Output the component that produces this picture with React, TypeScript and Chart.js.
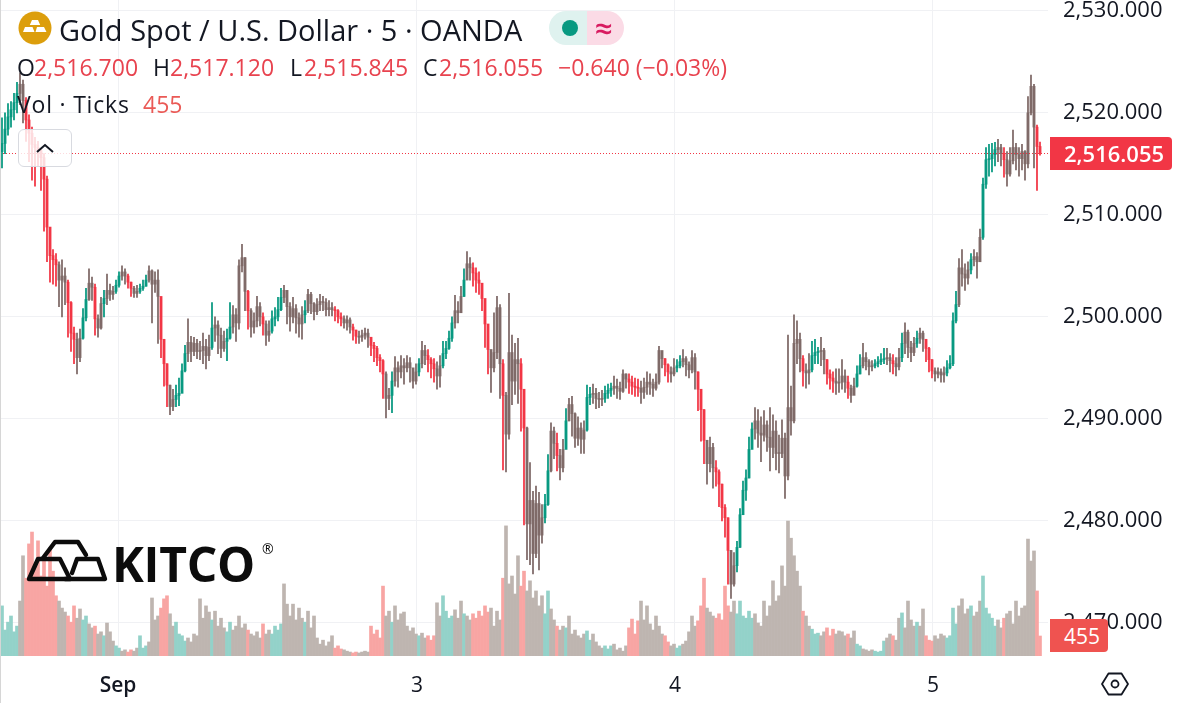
import React, { useEffect, useRef } from "react";
import Chart from "chart.js/auto";

const closes = [
2517.0,2518.4,2519.6,2520.3,2521.0,2521.9,2522.8,2521.2,2519.3,2518.0,
2516.9,2516.6,2516.3,2515.6,2513.5,2508.8,2506.0,2505.6,2505.1,2503.6,
2504.0,2503.4,2501.4,2498.4,2497.8,2496.0,2497.9,2499.9,2501.7,2503.3,
2502.9,2499.8,2498.9,2501.3,2501.8,2502.6,2502.2,2502.5,2503.1,2504.0,
2504.4,2504,2503.4,2502.8,2502.3,2502.5,2502.8,2503,2503.6,2504.5,
2503.2,2503.6,2502.0,2497.8,2495.4,2493.3,2491.2,2491.9,2492.3,2492.5,
2494.7,2496.4,2497.5,2496.6,2497.4,2496.6,2496.7,2497.1,2496.2,2497.0,
2498.9,2499.2,2498.2,2496.9,2497.6,2497.9,2499.0,2500.2,2499.4,2505.0,
2505.8,2502.5,2500.6,2499.0,2499.6,2501.0,2500.0,2499.3,2498.2,2498.6,
2499.8,2500.0,2500.7,2501.9,2502.6,2501.0,2500.0,2500.8,2499.9,2499.3,
2500.2,2500.6,2502.2,2501.3,2500.5,2501.2,2501.5,2501.4,2500.7,2500.9,
2500.7,2500.6,2500.0,2499.8,2499.4,2499.7,2499.0,2498.7,2498.1,2498.0,
2498.2,2498.4,2498.0,2497.2,2496.9,2496.0,2495.7,2494.4,2492.0,2492.3,
2493.7,2495,2494.6,2495.2,2495.0,2495.5,2495,2493.7,2494.6,2495.4,
2496.7,2496.2,2495.8,2495.4,2494.9,2494.2,2495.2,2496.4,2496.9,2497.9,
2499.4,2500.6,2500.4,2502.0,2503.6,2505.2,2504.8,2504.3,2503.6,2503.3,
2501.8,2499.3,2496.8,2495.0,2496.5,2500.9,2495.4,2492.3,2488.5,2496.5,
2493.7,2495.8,2495.4,2492.9,2489.1,2479.7,2482.0,2476.8,2481.7,2478.6,
2480.3,2481.6,2484.9,2488.8,2487.6,2486.4,2485.2,2487.0,2489.8,2491.4,
2490.5,2488.1,2489.1,2488.0,2488.9,2492.1,2492.4,2492.5,2492.0,2491.9,
2492.0,2492.5,2492.8,2493.0,2493.2,2493.0,2492.7,2494.4,2493.9,2493.6,
2493.2,2493.1,2493.0,2492.6,2493.1,2493.6,2493.4,2493.0,2493.6,2496.7,
2495.9,2495.3,2494.6,2494.4,2495,2495.2,2495.6,2495.9,2495.3,2494.8,
2496,2494.6,2492.9,2490.9,2487.9,2485.6,2487.2,2485.2,2484.8,2483.6,
2481.3,2480.3,2477.1,2473.8,2475.6,2477.4,2480.6,2483.0,2484.2,2487.0,
2489.0,2489.8,2488.6,2488.4,2489.4,2488.2,2487.2,2488.8,2486.6,2486.6,
2488.1,2484.4,2491.1,2489.8,2497.4,2497.8,2495.9,2494.7,2494.5,2494.8,
2496.2,2496.5,2496.6,2496.7,2495.8,2494.4,2494.0,2493.7,2493.5,2493.6,
2494.2,2493.6,2493,2492.3,2493.2,2494.4,2495.2,2496,2495.6,2495.1,
2495.2,2495.4,2495.6,2495.8,2495.9,2496,2495.7,2495.4,2495.1,2496.0,
2497.4,2498.5,2497.0,2496.5,2497.4,2497.9,2498.4,2497.8,2496.9,2495.8,
2494.7,2494.4,2494.6,2494.3,2494.5,2495,2495.4,2499.6,2501.2,2504.8,
2504.2,2503.8,2504.6,2505.6,2505.9,2505.4,2507.8,2513.0,2515.4,2515.5,
2515.9,2516.4,2516.6,2516.0,2515.4,2514,2515.3,2516.6,2515.9,2515.5,
2516.2,2515,2520.0,2522.6,2518.6,2516.7,2516.055];

const highs = [
2519.5,2520.0,2520.9,2521.1,2521.9,2523.0,2523.9,2523.2,2521.5,2519.8,
2518.6,2517.6,2517.2,2516.5,2516.0,2513.8,2508.6,2506.6,2506.2,2505.4,
2505.6,2504.8,2503.6,2501.5,2499.0,2498.4,2498.8,2500.8,2502.8,2504.7,
2503.9,2503.2,2500.2,2501.9,2502.6,2504.2,2503.2,2503.0,2503.6,2504.4,
2505.0,2504.7,2504.2,2503.4,2503.0,2503.1,2503.2,2503.6,2504.1,2505.0,
2504.6,2504.4,2504.6,2499.5,2497.0,2495.4,2493.3,2492.9,2493.3,2494.0,
2495.4,2497.2,2499.8,2498.1,2498.0,2497.8,2497.6,2498.4,2497.8,2498.2,
2501.4,2500.0,2499.6,2498.9,2498.6,2498.8,2501.4,2501.1,2500.8,2505.6,
2507.1,2505.8,2502.6,2500.8,2500.4,2502.0,2501.4,2500.4,2499.6,2499.6,
2500.6,2500.9,2501.9,2502.8,2503.1,2502.6,2501.4,2501.9,2501.2,2500.4,
2501.0,2501.6,2502.7,2502.4,2501.4,2501.8,2502.2,2502.0,2501.8,2501.6,
2501.4,2501.0,2500.7,2500.4,2500.1,2500.1,2499.9,2499.3,2498.7,2498.6,
2498.7,2498.9,2498.8,2498.0,2497.5,2497.1,2496.3,2495.8,2494.6,2493.0,
2494.6,2496.1,2495.6,2496.2,2495.9,2496.2,2496.0,2494.7,2495.4,2495.9,
2497.6,2497.2,2496.8,2496.0,2495.9,2495.6,2496.2,2497.6,2497.6,2498.6,
2500.0,2502.1,2501.5,2503.0,2504.7,2506.4,2505.8,2505.3,2504.8,2504.4,
2503.0,2501.5,2499.0,2496.6,2500.4,2502.0,2501.2,2495.8,2492.6,2502.3,
2498.2,2497.4,2497.9,2495.9,2492.4,2489.2,2485.7,2482.9,2483.4,2482.8,
2481.6,2482.6,2486.5,2489.6,2489.2,2488.6,2487.0,2488.0,2491.0,2492.0,
2492.2,2490.6,2490.2,2489.6,2489.8,2493.3,2493.1,2493.4,2493.0,2492.6,
2492.8,2493.2,2493.4,2493.5,2494.2,2493.9,2493.6,2494.8,2494.4,2494.4,
2494.2,2494.0,2493.9,2493.7,2494.0,2494.6,2494.4,2493.9,2494.4,2497.1,
2496.4,2495.9,2495.4,2495.1,2495.9,2495.8,2496.2,2496.8,2496.1,2495.6,
2496.7,2496.4,2494.6,2492.9,2490.9,2487.9,2488.2,2487.6,2485.9,2485.0,
2483.6,2481.6,2480.3,2477.1,2476.9,2478.0,2481.2,2483.9,2485.0,2488.2,
2489.6,2491.1,2490.9,2490.2,2490.8,2489.8,2491.1,2490.4,2489.8,2488.4,
2489.9,2488.6,2498.2,2493.2,2500.2,2499.6,2498.4,2496.2,2495.4,2496.4,
2497.6,2497.8,2497.0,2498.0,2496.9,2495.8,2494.8,2494.6,2494.9,2494.9,
2495.8,2494.8,2494.2,2493.3,2494.0,2495.2,2496.3,2497.4,2496.5,2495.8,
2495.7,2495.8,2496.1,2496.4,2496.9,2496.9,2496.4,2496.3,2496.0,2496.9,
2498.4,2499.4,2498.7,2497.6,2498.0,2498.6,2498.9,2498.6,2497.8,2497.0,
2495.8,2495.0,2495.0,2494.9,2495.1,2495.7,2496.2,2500.4,2502.5,2505.7,
2506.6,2505.2,2505.4,2506.2,2506.6,2506.3,2508.6,2513.6,2516.6,2516.9,
2517.0,2517.1,2517.4,2516.9,2516.6,2516.2,2516.6,2518.3,2517.0,2516.6,
2516.9,2516.3,2521.6,2523.7,2522.8,2518.8,2517.12];

const lows = [
2514.6,2516.0,2517.8,2518.6,2519.3,2520.0,2520.8,2519.0,2517.2,2515.2,
2513.4,2512.8,2514.8,2512.4,2508.4,2505.4,2503.4,2503.2,2503.0,2501.0,
2500.0,2501.2,2498.0,2496.6,2495.4,2494.4,2495.6,2497.8,2499.6,2501.6,
2501.6,2498.2,2498.0,2498.8,2500.0,2501.2,2501.6,2501.7,2502.3,2502.9,
2503.6,2503.2,2502.8,2502.0,2501.9,2501.9,2502.3,2502.6,2503.0,2503.4,
2499.4,2502.4,2497.4,2496.0,2493.2,2491.2,2490.4,2490.8,2491.2,2491.3,
2492.6,2494.6,2495.6,2495.6,2496.2,2495.9,2495.8,2495.4,2494.9,2495.7,
2496.8,2497.6,2496.4,2496.0,2496.6,2495.7,2497.8,2498.4,2497.6,2498.8,
2504.4,2500.6,2498.8,2498.0,2498.4,2499.0,2499.1,2498.2,2497.2,2497.6,
2498.4,2499.1,2499.6,2500.6,2501.4,2499.3,2498.6,2499.4,2498.4,2498.0,
2497.8,2499.4,2500.4,2500.3,2499.7,2500.2,2500.6,2500.6,2500.1,2500.1,
2500.1,2499.6,2499.4,2499.1,2498.9,2498.7,2498.4,2497.7,2497.4,2497.4,
2497.6,2497.8,2497.0,2496.2,2495.6,2495.2,2494.6,2492.0,2490.1,2490.9,
2490.6,2493.2,2493.1,2494.0,2493.4,2494.6,2493.6,2493.0,2493.4,2494.2,
2495.0,2495.3,2494.6,2494.0,2493.6,2492.9,2493.1,2495.0,2495.9,2496.8,
2497.6,2498.9,2499.4,2500.4,2502.0,2503.8,2503.6,2503.0,2502.4,2502.2,
2500.6,2497.0,2494.4,2492.6,2494.6,2495.9,2492.0,2485.0,2484.8,2488.0,
2491.4,2492.4,2491.5,2488.8,2479.6,2476.2,2475.7,2474.8,2476.4,2475.2,
2477.8,2479.8,2481.5,2484.8,2486.1,2484.9,2484.0,2484.8,2487.4,2489.8,
2488.3,2487.2,2487.4,2486.6,2486.6,2488.8,2491.4,2491.5,2491.0,2491.1,
2491.3,2491.6,2492.0,2492.2,2492.4,2492.0,2491.9,2492.6,2493.0,2492.5,
2492.4,2492.2,2492.2,2491.5,2492.0,2492.4,2492.4,2492.2,2492.8,2493.4,
2495.0,2494.2,2493.6,2493.6,2494.2,2494.6,2495.0,2495.1,2494.2,2494.0,
2494.5,2492.9,2490.8,2487.8,2485.6,2483.6,2484.8,2483.2,2483.4,2481.4,
2480.0,2478.4,2473.8,2472.4,2473.6,2475.0,2477.4,2480.6,2482.0,2484.2,
2487.2,2488.0,2487.2,2485.8,2487.8,2486.8,2484.9,2486.2,2485.0,2484.7,
2486.2,2482.2,2484.0,2488.4,2489.6,2495.4,2494.6,2493.2,2493.0,2493.4,
2494.6,2495.4,2495.4,2495.2,2494.4,2493.4,2492.9,2492.6,2492.4,2492.6,
2492.9,2492.6,2492.0,2491.6,2492.4,2493.1,2494.4,2495.0,2494.8,2494.3,
2494.7,2495.0,2495.1,2495.3,2495.4,2495.3,2494.6,2494.4,2494.2,2494.8,
2495.6,2496.4,2496.0,2495.6,2496.2,2497.0,2497.4,2496.6,2495.6,2494.6,
2494.0,2493.7,2494.0,2493.6,2493.6,2494.2,2494.9,2495.2,2499.4,2501.0,
2503.0,2502.6,2503.2,2504.2,2505.0,2503.8,2505.4,2507.6,2512.6,2513.8,
2514.2,2514.8,2515.2,2514.8,2513.7,2512.8,2513.8,2515.0,2514.4,2513.8,
2514.4,2513.4,2514.6,2519.8,2514.6,2512.4,2515.845];

const volumes = [
1140,590,770,910,550,680,1250,2280,1770,2550,
2820,2050,2620,1820,2160,1590,2460,1930,1370,1250,
1090,1000,910,770,1140,860,1070,820,910,730,
640,680,500,550,460,750,550,340,230,180,
110,140,90,140,110,180,460,180,230,320,
1320,820,910,1090,1300,1370,960,680,770,500,
460,340,410,320,500,460,1300,860,1140,1000,
820,1020,680,860,640,550,770,590,680,910,
640,730,590,500,460,550,410,730,500,590,
500,680,590,730,1640,1180,910,1180,820,1090,
860,770,1020,640,910,410,270,360,230,320,
460,180,230,160,140,110,90,70,90,70,
90,110,90,680,500,590,410,1590,910,1020,
770,1140,820,960,1000,680,570,640,500,460,
520,410,460,360,460,1210,910,1370,1020,860,
910,1050,860,1250,960,910,820,960,860,1020,
910,1140,1000,1090,680,1020,820,1770,2960,1640,
1820,1410,2280,1590,1930,1480,1710,1320,1480,1140,
1370,960,1480,1070,820,680,590,680,640,910,
500,590,460,410,500,570,360,500,320,230,
180,230,160,230,270,140,180,110,230,640,
840,500,800,1250,820,1140,730,590,910,680,
500,460,320,230,270,180,230,270,340,550,
910,680,800,1140,1770,1090,1000,910,860,960,
820,1590,1140,1000,1250,960,1250,910,860,1020,
860,960,750,680,1250,910,1140,1710,1250,1370,
2050,1590,3070,2680,2280,1930,1590,1020,910,680,
610,500,520,460,550,640,460,610,500,570,
550,460,500,410,570,270,230,160,140,110,
140,110,90,110,340,410,500,460,360,860,
980,640,1250,820,680,770,680,1070,460,360,
340,460,390,500,460,410,460,1090,730,1140,
1300,960,1070,1140,910,1000,1250,1820,1090,960,
860,680,820,640,860,960,1020,730,1250,910,
1090,1140,2660,2160,2390,1480,455];

const firstOpen = 2516.2;
const dayTickValues = [38.67, 138.33, 224.33, 310.33];
const dayTickLabels = ["Sep", "3", "4", "5"];
const priceTicks = [2470, 2480, 2490, 2500, 2510, 2520, 2530];
const titleText = "Gold Spot / U.S. Dollar · 5 · OANDA";
const legendOhlc = [
  ["O", "2,516.700"],
  ["H", "2,517.120"],
  ["L", "2,515.845"],
  ["C", "2,516.055"],
];
const changeText = "−0.640 (−0.03%)";
const volumeName = "Vol · Ticks";
const lastVolumeText = "455";

const UP = "#089981";
const DOWN = "#f23645";
const CHOP = "#7f6a68";
const FONT = '"Open Sans", "Noto Sans", sans-serif';

const fmt = (v: number) =>
  v.toFixed(3).replace(/\B(?=(\d{3})(?!\d))(?=\d+\.)/g, ",");

const Txt = ({ x, y, size = 23, color = "#131722", weight = 400, children, ls = 0 }: any) => (
  <span
    style={{
      position: "absolute", left: x, top: y, transform: "translateY(-50%)",
      fontFamily: FONT, fontSize: size, color, fontWeight: weight, whiteSpace: "pre",
      letterSpacing: ls, lineHeight: 1,
    }}
  >
    {children}
  </span>
);

export default function App() {
  const ref = useRef<HTMLCanvasElement>(null);
  useEffect(() => {
    const opens = closes.map((c, i) => (i === 0 ? firstOpen : closes[i - 1]));
    const isUp = closes.map((c, i) => c >= opens[i]);
    // A bar whose direction differs from a neighbour sits in a choppy stretch.
    const isChop = isUp.map((u, i) => (i > 0 && isUp[i - 1] !== u) || (i < isUp.length - 1 && isUp[i + 1] !== u));
    const col = isUp.map((u, i) => (isChop[i] ? CHOP : u ? UP : DOWN));
    const volCol = isUp.map((u, i) => (isChop[i] ? "#beb5b0" : u ? "#93d2c9" : "#f8a5a3"));
    const priceLine = {
      id: "priceLine",
      afterDatasetsDraw(chart: any) {
        const { ctx, chartArea, scales } = chart;
        const y = Math.round(scales.y.getPixelForValue(closes[closes.length - 1])) + 0.5;
        ctx.save();
        ctx.strokeStyle = DOWN;
        ctx.lineWidth = 1;
        ctx.setLineDash([1, 2]);
        ctx.beginPath();
        ctx.moveTo(chartArea.left, y);
        ctx.lineTo(chartArea.right, y);
        ctx.stroke();
        ctx.restore();
      },
    };
    const chart = new Chart(ref.current!, {
      type: "bar",
      plugins: [priceLine],
      data: {
        datasets: [
          {
            label: "Body",
            data: closes.map((c, i) => ({ x: i, y: [opens[i], c] })),
            backgroundColor: col,
            barThickness: 2.2,
            minBarLength: 1,
            grouped: false,
            yAxisID: "y",
            order: 1,
          },
          {
            label: "Wick",
            data: closes.map((c, i) => ({ x: i, y: [lows[i], highs[i]] })),
            backgroundColor: col,
            barThickness: 1.1,
            grouped: false,
            yAxisID: "y",
            order: 2,
          },
          {
            label: "Volume",
            data: volumes.map((v, i) => ({ x: i, y: v })),
            backgroundColor: volCol,
            barThickness: 3,
            grouped: false,
            yAxisID: "yv",
            order: 3,
          },
        ],
      } as any,
      options: {
        responsive: false,
        animation: false,
        events: [],
        layout: { padding: 0 },
        plugins: { legend: { display: false }, tooltip: { enabled: false } },
        scales: {
          x: {
            type: "linear",
            offset: false,
            min: -0.667,
            max: 348.67,
            afterBuildTicks: (s: any) => {
              s.ticks = dayTickValues.map((value) => ({ value }));
            },
            afterFit: (s: any) => {
              s.height = 47;
              s.paddingLeft = 0;
              s.paddingRight = 0;
            },
            grid: { offset: false, color: "#f0f1f4", drawTicks: false, lineWidth: 1 },
            border: { display: false },
            ticks: {
              autoSkip: false,
              maxRotation: 0,
              padding: 17,
              color: "#131722",
              includeBounds: false,
              font: (c: any) => ({ family: FONT, size: 21, weight: c.index === 0 ? "600" : "400" }),
              callback: (v: any) => dayTickLabels[dayTickValues.indexOf(v)] ?? "",
            },
          },
          y: {
            position: "right",
            min: 2466.75,
            max: 2531.06,
            afterBuildTicks: (s: any) => {
              s.ticks = priceTicks.map((value) => ({ value }));
            },
            afterFit: (s: any) => {
              s.width = 134;
              s.paddingTop = 0;
              s.paddingBottom = 0;
            },
            grid: { color: "#f0f1f4", drawTicks: false, lineWidth: 1 },
            border: { display: false },
            ticks: {
              padding: 15,
              color: "#131722",
              includeBounds: false,
              font: { family: FONT, size: 22 },
              callback: (v: any) => fmt(Number(v)),
            },
          },
          yv: { display: false, min: 0, max: 14924 },
        },
      } as any,
    });
    return () => chart.destroy();
  }, []);

  const ohlcX = [[17, 34], [153, 170], [290, 304], [423, 439]];
  return (
    <div style={{ position: "fixed", left: 0, top: 0, width: 1182, height: 703, background: "#fff", overflow: "hidden" }}>
      <canvas ref={ref} width={1182} height={703} style={{ position: "absolute", left: 0, top: 0, display: "block" }} />
      <div style={{ position: "absolute", left: 0, top: 0, width: 1, height: 703, background: "#d6d6d6" }} />

      {/* symbol icon */}
      <svg width={34} height={34} viewBox="0 0 34 34" style={{ position: "absolute", left: 18, top: 11 }}>
        <circle cx={17} cy={17} r={16.5} fill="#dc9e0c" />
        <path d="M14 9h6l2.2 5h-10.4zM7 16h7.5l2 5H5zM19 16h7l2.5 5H17.5z" fill="#fff" />
      </svg>
      <Txt x={59} y={29} size={29}>{titleText}</Txt>

      {/* status pill */}
      <div style={{ position: "absolute", left: 549, top: 11, width: 38, height: 34, background: "#dff2ef", borderRadius: "17px 0 0 17px" }} />
      <div style={{ position: "absolute", left: 587, top: 11, width: 37, height: 34, background: "#fbdbe6", borderRadius: "0 17px 17px 0" }} />
      <div style={{ position: "absolute", left: 562, top: 20, width: 16, height: 16, background: UP, borderRadius: 8 }} />
      <Txt x={595} y={28} size={31} color="#d81b60" weight={600}>≈</Txt>

      {/* OHLC legend */}
      {legendOhlc.map(([k, v], i) => (
        <React.Fragment key={k}>
          <Txt x={ohlcX[i][0]} y={67}>{k}</Txt>
          <Txt x={ohlcX[i][1]} y={67} color="#e8434f">{v}</Txt>
        </React.Fragment>
      ))}
      <Txt x={558} y={67} color="#e8434f">{changeText}</Txt>
      <Txt x={17} y={104} ls={0.8}>{volumeName}</Txt>
      <Txt x={143} y={104} color="#ea5a56">{lastVolumeText}</Txt>

      {/* collapse button */}
      <div style={{ position: "absolute", left: 18, top: 129, width: 52, height: 36, boxSizing: "content-box", border: "1px solid #d8dae0", borderRadius: 6, background: "rgba(255,255,255,0.82)" }} />
      <svg width={20} height={12} viewBox="0 0 20 12" style={{ position: "absolute", left: 35, top: 142 }}>
        <path d="M2 10 L10 3 L18 10" fill="none" stroke="#131722" strokeWidth={2} />
      </svg>

      {/* Kitco logo */}
      <svg width={100} height={50} viewBox="0 0 100 50" style={{ position: "absolute", left: 25, top: 538 }}>
        <g fill="none" stroke="#0c0c0c" strokeWidth={4.4} strokeLinejoin="round" strokeLinecap="round">
          <path d="M18 20 L30 4 L53 4 L61 17" />
          <path d="M4 41 L13 21 L35 21 L45 41 L4 41" />
          <path d="M47 35 L52 21 L73 21 L80 41 L40 41" />
        </g>
      </svg>
      <Txt x={112} y={564} size={48} color="#0c0c0c" weight={700} ls={-0.3}>KITCO</Txt>
      <Txt x={262} y={549} size={14} color="#0c0c0c">®</Txt>

      {/* price and volume labels */}
      <div style={{ position: "absolute", left: 1050, top: 137, width: 122, height: 33, background: DOWN, borderRadius: "0 4px 4px 0" }} />
      <Txt x={1064} y={153} color="#fff" weight={600} size={22}>{fmt(closes[closes.length - 1])}</Txt>
      <div style={{ position: "absolute", left: 1050, top: 619, width: 58, height: 33, background: "#ef5350", borderRadius: "0 4px 4px 0" }} />
      <Txt x={1064} y={636} color="#fff" weight={400} size={21}>{lastVolumeText}</Txt>

      {/* settings icon */}
      <svg width={30} height={26} viewBox="0 0 30 26" style={{ position: "absolute", left: 1100, top: 671 }}>
        <path d="M8.5 2.5 H21.5 L28 13 L21.5 23.5 H8.5 L2 13 Z" fill="none" stroke="#131722" strokeWidth={1.8} strokeLinejoin="round" />
        <circle cx={15} cy={13} r={3.5} fill="none" stroke="#131722" strokeWidth={1.8} />
      </svg>
    </div>
  );
}
